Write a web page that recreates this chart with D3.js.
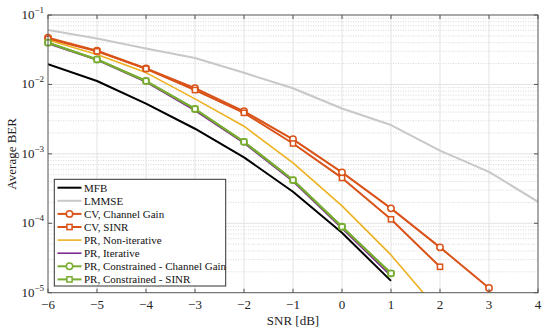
<!DOCTYPE html>
<html><head><meta charset="utf-8">
<script src="https://cdn.jsdelivr.net/npm/d3@7"></script>
<style>body{margin:0;background:#fff}svg{display:block}text{font-family:"Liberation Serif","DejaVu Serif",serif}</style>
</head><body><div id="c"></div>
<script>
const snr = [-6,-5,-4,-3,-2,-1,0,1,2,3,4];
const xTicks = [-6,-5,-4,-3,-2,-1,0,1,2,3,4];
const yTicks = [1e-5,1e-4,1e-3,1e-2,1e-1];
const yTickExp = ["−5","−4","−3","−2","−1"];

const mfb     = [0.0195,0.0112,0.0053,0.0023,0.00089,0.000285,0.000073,0.0000148];
const lmmse   = [0.0608,0.046,0.033,0.024,0.0147,0.0088,0.0045,0.0026,0.00111,0.00055,0.000204];
const cvGain  = [0.047,0.0306,0.017,0.0088,0.0041,0.00162,0.00054,0.000164,0.000045,0.0000117];
const cvSinr  = [0.0455,0.0300,0.0168,0.0083,0.0039,0.00141,0.00045,0.000114,0.0000236];
const prNon   = [0.0436,0.027,0.0148,0.0062,0.0025,0.00074,0.000178,0.000035,0.0000052];
const prIter  = [0.0387,0.0224,0.0108,0.0042,0.00143,0.00040,0.000084,0.0000175];
const prConG  = [0.0400,0.0229,0.0112,0.00443,0.00149,0.000419,0.000089,0.000019];
const prConS  = [0.0400,0.0229,0.0112,0.00443,0.00149,0.000419,0.000089,0.000019];

const series = [
  {name:"MFB", data:mfb, color:"#000000", w:2, marker:null},
  {name:"LMMSE", data:lmmse, color:"#c8c8c8", w:2, marker:null},
  {name:"CV, Channel Gain", data:cvGain, color:"#D95319", w:2, marker:"circle"},
  {name:"CV, SINR", data:cvSinr, color:"#D95319", w:2, marker:"square"},
  {name:"PR, Non-iterative", data:prNon, color:"#EDB120", w:1.6, marker:null},
  {name:"PR, Iterative", data:prIter, color:"#7E2F8E", w:1.6, marker:null},
  {name:"PR, Constrained - Channel Gain", data:prConG, color:"#77AC30", w:2, marker:"circle"},
  {name:"PR, Constrained - SINR", data:prConS, color:"#77AC30", w:2, marker:"square"}
];

const W=550,H=335;
const m={l:48,r:12,t:15,b:42.3};
const svg=d3.select("#c").append("svg").attr("width",W).attr("height",H);
const x=d3.scaleLinear().domain([-6,4]).range([m.l,W-m.r]);
const y=d3.scaleLog().domain([1e-5,1e-1]).range([H-m.b,m.t]);
const x0=m.l,x1=W-m.r,y0=m.t,y1=H-m.b;

// minor grid
const minors=[];
for(let e=-5;e<-1;e++) for(let k=2;k<=9;k++) minors.push(k*Math.pow(10,e));
svg.append("g").selectAll("line").data(minors).join("line")
  .attr("x1",x0).attr("x2",x1).attr("y1",d=>y(d)).attr("y2",d=>y(d))
  .attr("stroke","#cfcfcf").attr("stroke-width",0.8).attr("stroke-dasharray","1,1.5");
// major grid
svg.append("g").selectAll("line").data(xTicks.slice(1,-1)).join("line")
  .attr("x1",d=>x(d)).attr("x2",d=>x(d)).attr("y1",y0).attr("y2",y1)
  .attr("stroke","#e3e3e3").attr("stroke-width",1);
svg.append("g").selectAll("line").data(yTicks.slice(1,-1)).join("line")
  .attr("x1",x0).attr("x2",x1).attr("y1",d=>y(d)).attr("y2",d=>y(d))
  .attr("stroke","#e3e3e3").attr("stroke-width",1);

svg.append("clipPath").attr("id","clip").append("rect")
  .attr("x",x0).attr("y",y0).attr("width",x1-x0).attr("height",y1-y0);
const plot=svg.append("g").attr("clip-path","url(#clip)");
const line=d3.line().x((d,i)=>x(snr[i])).y(d=>y(d));
series.forEach(s=>{
  plot.append("path").attr("d",line(s.data)).attr("fill","none")
    .attr("stroke",s.color).attr("stroke-width",s.w).attr("stroke-linejoin","round");
});
function drawMarker(g,type,cx,cy,color){
  if(type==="circle") g.append("circle").attr("cx",cx).attr("cy",cy).attr("r",3.2)
    .attr("fill","#fff").attr("stroke",color).attr("stroke-width",1.5);
  else if(type==="square") g.append("rect").attr("x",cx-2.6).attr("y",cy-2.6).attr("width",5.2).attr("height",5.2)
    .attr("fill","#fff").attr("stroke",color).attr("stroke-width",1.5);
}
const mk=svg.append("g");
series.forEach(s=>{ if(s.marker) s.data.forEach((d,i)=>drawMarker(mk,s.marker,x(snr[i]),y(d),s.color)); });

// axes frame and ticks
const ax="#555";
svg.append("rect").attr("x",x0).attr("y",y0).attr("width",x1-x0).attr("height",y1-y0)
  .attr("fill","none").attr("stroke",ax).attr("stroke-width",1);
const tl=4;
svg.append("g").selectAll("line").data(xTicks).join("line")
  .attr("x1",d=>x(d)).attr("x2",d=>x(d)).attr("y1",y1).attr("y2",y1-tl).attr("stroke",ax);
svg.append("g").selectAll("line").data(xTicks).join("line")
  .attr("x1",d=>x(d)).attr("x2",d=>x(d)).attr("y1",y0).attr("y2",y0+tl).attr("stroke",ax);
svg.append("g").selectAll("line").data(yTicks).join("line")
  .attr("x1",x0).attr("x2",x0+tl).attr("y1",d=>y(d)).attr("y2",d=>y(d)).attr("stroke",ax);
svg.append("g").selectAll("line").data(yTicks).join("line")
  .attr("x1",x1).attr("x2",x1-tl).attr("y1",d=>y(d)).attr("y2",d=>y(d)).attr("stroke",ax);

// tick labels
svg.append("g").selectAll("text").data(xTicks).join("text")
  .attr("x",d=>x(d)).attr("y",y1+16).attr("text-anchor","middle")
  .attr("font-size",13).attr("fill","#222").text(d=>d<0?"−"+Math.abs(d):d);
const yl=svg.append("g").selectAll("text").data(yTicks).join("text")
  .attr("x",x0-4).attr("y",d=>y(d)+4).attr("text-anchor","end")
  .attr("font-size",13).attr("fill","#222");
yl.append("tspan").text("10");
yl.append("tspan").attr("font-size",9).attr("dy",-6).text((d,i)=>yTickExp[i]);

svg.append("text").attr("x",(x0+x1)/2).attr("y",325).attr("text-anchor","middle")
  .attr("font-size",13).attr("fill","#222").text("SNR [dB]");
svg.append("text").attr("transform",`translate(16,${(y0+y1)/2}) rotate(-90)`).attr("text-anchor","middle")
  .attr("font-size",13).attr("fill","#222").text("Average BER");

// legend
const lg=svg.append("g");
const lx=54.3, ly=179.3, lw=171.4, lh=106.7;
lg.append("rect").attr("x",lx).attr("y",ly).attr("width",lw).attr("height",lh)
  .attr("fill","#fff").attr("stroke","#333").attr("stroke-width",1);
series.forEach((s,i)=>{
  const yy=187.7+i*13.1;
  lg.append("line").attr("x1",57.5).attr("x2",81.5).attr("y1",yy).attr("y2",yy)
    .attr("stroke",s.color).attr("stroke-width",s.w);
  if(s.marker) drawMarker(lg,s.marker,69.5,yy,s.color);
  lg.append("text").attr("x",84).attr("y",yy+4).attr("font-size",11).attr("fill","#111").text(s.name);
});
</script></body></html>
